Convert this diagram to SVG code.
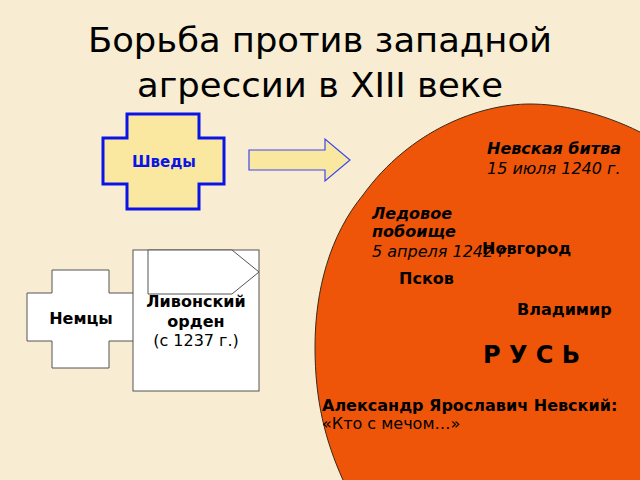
<svg xmlns="http://www.w3.org/2000/svg" width="640" height="480" viewBox="0 0 640 480">
<style>
text{font-family:"DejaVu Sans","Noto Sans",sans-serif;fill:#000}
.title{font-size:33px}
.b{font-weight:bold;font-size:16px}
.bi{font-weight:bold;font-style:italic;font-size:16px}
.i{font-style:italic;font-size:16px}
.n{font-size:16px}
.c{text-anchor:middle}
.gray{fill:#fff;stroke:#555;stroke-width:1}
</style>
<rect width="640" height="480" fill="#F8EDD2"/>
<g id="title">
<text class="title" x="88" y="52" textLength="464" lengthAdjust="spacingAndGlyphs">Борьба против западной</text>
<text class="title" x="137" y="97" textLength="366" lengthAdjust="spacingAndGlyphs">агрессии в XIII веке</text>
</g>
<g id="rus">
<path d="M640,132 C600,112 560,104 530,104 C480,104 410,130 363,195 C330,235 315,290 315,347 C315,400 325,440 343,480 L350,495 L660,495 L660,140 Z" fill="#EE5508" stroke="#3a2a1a" stroke-width="1"/>
<text class="bi" x="487" y="154">Невская битва</text>
<text class="i" x="487" y="174">15 июля 1240 г.</text>
<text class="bi" x="372" y="219">Ледовое</text>
<text class="bi" x="372" y="237">побоище</text>
<text class="i" x="372" y="257">5 апреля 1242 г.</text>
<text class="b" x="482" y="254">Новгород</text>
<text class="b" x="399" y="284">Псков</text>
<text class="b" x="517" y="315">Владимир</text>
<text x="483" y="363" style="font-weight:bold;font-size:24px">Р У С Ь</text>
<text class="b" x="322" y="411">Александр Ярославич Невский:</text>
<text class="n" x="322" y="429">«Кто с мечом…»</text>
</g>
<g id="shvedy">
<path d="M127,114 H199 V138 H224 V184 H199 V209 H127 V184 H103 V138 H127 Z" fill="#FAE8A0" stroke="#0A14E6" stroke-width="3"/>
<text class="b c" x="164" y="167" style="fill:#0A14E6;font-size:15px">Шведы</text>
</g>
<g id="connectors">
<path d="M249,150 H325 V139 L350,160 L325,181 V170 H249 Z" fill="#FAE8A0" stroke="#3C46F0" stroke-width="1.2"/>
</g>
<g id="nemcy">
<path class="gray" d="M52,270 H109 V293 H135 V341 H109 V368 H52 V341 H27 V293 H52 Z"/>
<text class="b c" x="81" y="324">Немцы</text>
</g>
<g id="orden">
<rect class="gray" x="133" y="250" width="126" height="141"/>
<path class="gray" d="M148,250 H232 L259,272 L232,294 H148 Z"/>
<text class="b c" x="196" y="307">Ливонский</text>
<text class="b c" x="196" y="327">орден</text>
<text class="n c" x="196" y="346">(с 1237 г.)</text>
</g>
</svg>
